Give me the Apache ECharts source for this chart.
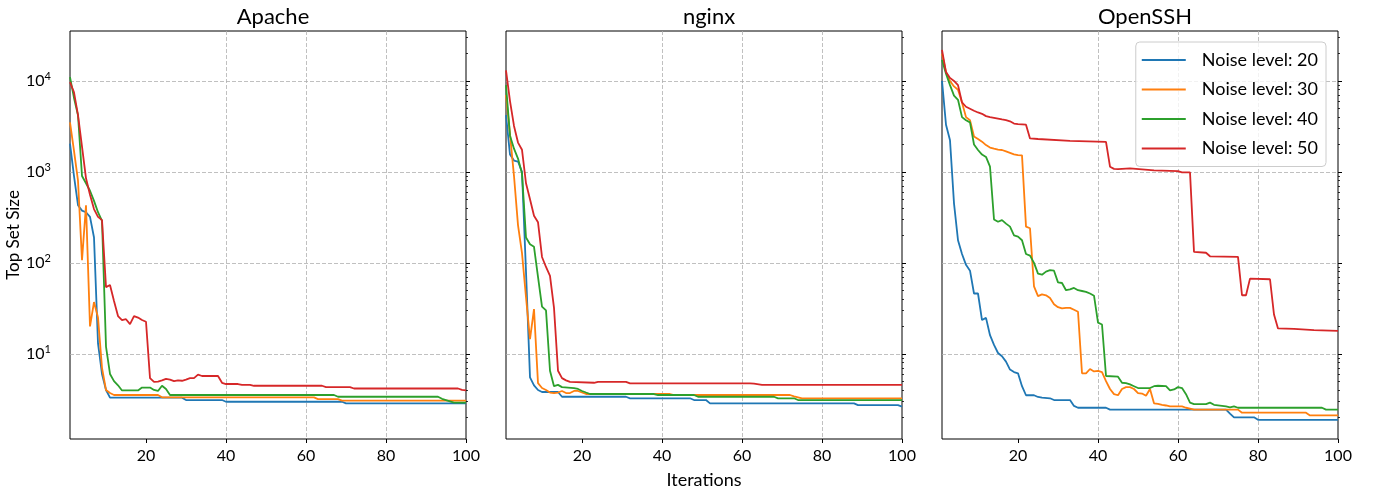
<!DOCTYPE html>
<html>
<head>
<meta charset="utf-8">
<script src="https://cdn.jsdelivr.net/npm/echarts@6/dist/echarts.min.js"></script>
<style>
  html, body { margin: 0; padding: 0; background: #fff; }
  #chart { width: 1377px; height: 495px; }
</style>
</head>
<body>
<div id="chart"></div>
<script>
const panelTitles = ['Apache', 'nginx', 'OpenSSH'];
const seriesNames = ['Noise level: 20', 'Noise level: 30', 'Noise level: 40', 'Noise level: 50'];
const seriesColors = ['#1f77b4', '#ff7f0e', '#2ca02c', '#d62728'];
const xTicks = [20, 40, 60, 80, 100];
const yTickExponents = [1, 2, 3, 4];

// [iteration, top set size]
const apache20 = [[1,2050],[2,900],[3,430],[4,375],[5,360],[6,320],[7,190],[8,13],[9,6],[10,4.0],[11,3.29],[29,3.29],[30,3.1],[39,3.1],[40,2.97],[69,2.97],[70,2.85],[100,2.85]];
const apache30 = [[1,3500],[2,1700],[3,800],[4,107],[5,430],[6,20],[7,37],[8,25],[9,7],[10,4.0],[11,3.7],[12,3.52],[23,3.52],[24,3.32],[62,3.32],[63,3.17],[68,3.17],[69,3.05],[100,3.05]];
const apache40 = [[1,11000],[2,6500],[3,4200],[4,900],[5,750],[6,620],[7,480],[8,360],[9,290],[10,12],[11,6],[12,5],[13,4.5],[14,3.95],[18,3.95],[19,4.25],[21,4.25],[22,4.0],[23,3.9],[24,4.45],[25,4.1],[26,3.52],[67,3.52],[68,3.37],[93,3.37],[94,3.2],[95,3.1],[97,2.9],[100,2.9]];
const apache50 = [[1,9700],[2,7500],[3,4200],[4,1900],[5,850],[6,560],[7,390],[8,320],[9,295],[10,54],[11,57],[12,38],[13,26],[14,23.5],[15,24],[16,21.2],[17,26],[18,25],[19,23.5],[20,22.5],[21,5.4],[22,4.9],[23,4.95],[24,5.1],[25,5.3],[26,5.2],[27,5.0],[28,5.1],[29,5.05],[30,5.2],[31,5.4],[32,5.4],[33,5.9],[34,5.7],[38,5.7],[39,4.8],[40,4.65],[43,4.65],[44,4.55],[46,4.55],[47,4.45],[64,4.45],[65,4.3],[71,4.3],[72,4.15],[98,4.15],[99,4.0],[100,3.95]];

const nginx20 = [[1,4200],[2,1550],[3,1330],[4,1300],[5,1000],[6,80],[7,5.5],[8,4.5],[9,4.0],[10,3.8],[14,3.8],[15,3.37],[31,3.37],[32,3.24],[47,3.24],[48,3.1],[51,3.1],[52,2.85],[88,2.85],[89,2.73],[99,2.73],[100,2.63]];
const nginx30 = [[1,7000],[2,2600],[3,900],[4,260],[5,128],[6,42],[7,14.5],[8,31],[9,4.75],[10,4.2],[11,4.0],[12,3.75],[13,3.7],[14,3.75],[15,3.9],[16,3.7],[17,3.7],[18,3.9],[19,3.9],[20,3.75],[21,3.61],[42,3.61],[43,3.52],[72,3.52],[73,3.4],[75,3.24],[100,3.24]];
const nginx40 = [[1,9000],[2,2500],[3,1800],[4,1400],[5,960],[6,190],[7,160],[8,150],[9,70],[10,33],[11,30],[12,6.5],[13,4.4],[14,4.55],[15,4.3],[18,4.2],[19,4.1],[20,3.9],[21,3.75],[22,3.61],[38,3.61],[39,3.52],[48,3.52],[49,3.37],[68,3.37],[69,3.24],[73,3.24],[74,3.1],[100,3.1]];
const nginx50 = [[1,13100],[2,6000],[3,3200],[4,2100],[5,1750],[6,750],[7,500],[8,330],[9,280],[10,116],[11,90],[12,72],[13,32],[14,6.5],[15,5.4],[16,5.1],[17,4.9],[23,4.8],[24,4.92],[31,4.92],[32,4.73],[62,4.73],[63,4.7],[65,4.55],[100,4.55]];

const ssh20 = [[1,10000],[2,3300],[3,2230],[4,450],[5,177],[6,125],[7,95],[8,82],[9,46],[10,46],[11,23.5],[12,24.8],[13,16],[14,12.5],[15,10.2],[16,9.4],[17,8.2],[18,6.7],[19,6.3],[20,6.1],[21,4.4],[22,3.5],[24,3.5],[25,3.35],[26,3.29],[28,3.24],[29,3.1],[33,3.1],[34,2.67],[35,2.55],[42,2.55],[43,2.43],[72,2.43],[73,2.2],[74,2.0],[79,2.0],[80,1.88],[100,1.88]];
const ssh30 = [[1,20000],[2,12500],[3,10000],[4,8700],[5,8000],[6,5800],[7,4000],[8,3700],[9,2450],[10,2300],[11,2150],[12,1970],[13,1850],[14,1800],[15,1760],[16,1740],[17,1680],[18,1620],[19,1560],[20,1530],[21,1520],[22,250],[23,240],[24,55],[25,43],[26,45],[27,44],[28,41],[29,35],[30,32.5],[31,31.5],[32,32],[33,32],[34,30.5],[35,29],[36,6.1],[37,6.1],[38,6.8],[39,6.4],[40,6.5],[41,6.3],[42,5.0],[43,4.1],[44,3.6],[45,3.5],[46,4.1],[47,4.3],[48,4.3],[49,4.1],[50,3.7],[51,3.65],[52,3.45],[53,4.1],[54,2.85],[55,2.82],[56,2.75],[57,2.7],[58,2.64],[61,2.64],[62,2.55],[63,2.5],[64,2.43],[75,2.43],[76,2.25],[92,2.25],[93,2.1],[100,2.1]];
const ssh40 = [[1,17000],[2,12000],[3,9000],[4,6900],[5,6200],[6,4000],[7,3700],[8,3500],[9,2000],[10,1740],[11,1550],[12,1460],[13,1140],[14,300],[15,283],[16,295],[17,270],[18,250],[19,200],[20,194],[21,177],[22,125],[23,120],[24,100],[25,76],[26,74],[27,80],[28,83],[29,82],[30,61],[31,60],[32,50],[33,51],[34,53],[35,50],[36,49],[37,48],[38,46],[39,43.5],[40,22],[41,21],[42,5.7],[45,5.6],[46,4.8],[47,4.75],[48,4.6],[49,4.4],[50,4.2],[53,4.2],[54,4.4],[55,4.45],[57,4.4],[58,3.95],[59,4.05],[60,4.3],[61,4.2],[62,3.6],[63,2.9],[64,2.79],[67,2.79],[68,2.9],[69,2.75],[72,2.64],[73,2.58],[74,2.64],[75,2.55],[96,2.55],[97,2.43],[100,2.43]];
const ssh50 = [[1,22000],[2,12500],[3,10800],[4,10000],[5,9000],[6,5800],[7,5200],[8,4950],[9,4700],[10,4500],[11,4350],[12,4100],[13,4000],[14,3930],[15,3850],[16,3770],[17,3700],[18,3600],[19,3400],[20,3350],[21,3330],[22,3300],[23,2330],[25,2300],[33,2190],[42,2140],[43,1140],[44,1080],[45,1070],[48,1090],[54,1040],[60,1020],[61,990],[63,990],[64,132],[67,129],[68,118],[75,116],[76,44],[77,44],[78,67],[83,66],[84,27],[85,19],[89,18.8],[94,18.2],[100,17.9]];

const panelData = [
  [apache20, apache30, apache40, apache50],
  [nginx20, nginx30, nginx40, nginx50],
  [ssh20, ssh30, ssh40, ssh50]
];

const FONT = 'Lato, "DejaVu Sans", sans-serif';
const Y_MIN = 1.156;
const Y_MAX = 35400;
const gridLefts = [70, 506, 942];
const GRID_W = 396;

// minor tick positions (log10 space) for 2..9 x 10^n
const minorTicks = [];
for (let n = 0; n <= 4; n++) {
  for (let k = 2; k <= 9; k++) {
    const v = k * Math.pow(10, n);
    if (v > Y_MIN && v < Y_MAX) minorTicks.push(Math.log10(v));
  }
}

const gridLine = { color: '#b0b0b0', width: 0.8, type: [4, 2] };

const grid = gridLefts.map(left => ({
  left, top: 31, width: GRID_W, height: 408,
  show: true, borderColor: '#000', borderWidth: 1, backgroundColor: 'transparent'
}));

const title = panelTitles.map((text, i) => ({
  text, left: gridLefts[i] + GRID_W / 2, top: 1, textAlign: 'center',
  textStyle: { fontSize: 22, fontWeight: 'normal', fontFamily: FONT, color: '#000' }
}));

const xAxis = panelTitles.map((_, i) => ({
  type: 'value', gridIndex: i, min: 1, max: 100,
  axisLine: { show: false },
  axisTick: { show: true, length: 4, customValues: xTicks, lineStyle: { color: '#000' } },
  axisLabel: { customValues: xTicks, fontSize: 16, fontFamily: FONT, color: '#000', margin: 9 },
  splitLine: { show: true, showMinLine: false, showMaxLine: false, lineStyle: gridLine },
  name: i === 1 ? 'Iterations' : '',
  nameLocation: 'middle', nameGap: 32,
  nameTextStyle: { fontSize: 18, fontFamily: FONT, color: '#000' }
}));

const yAxis = [];
panelTitles.forEach((_, i) => {
  yAxis.push({
    type: 'log', logBase: 10, gridIndex: i, min: Y_MIN, max: Y_MAX,
    axisLine: { show: false },
    axisTick: { show: false },
    axisLabel: {
      show: i === 0, showMinLabel: false, showMaxLabel: false, margin: 19,
      fontSize: 16, fontFamily: FONT, color: '#000',
      formatter: v => '10{sup|' + Math.round(Math.log10(v)) + '}',
      rich: { sup: { fontSize: 11, fontFamily: FONT, color: '#000', padding: [0, 0, 8, 0] } }
    },
    splitLine: { show: true, showMinLine: false, showMaxLine: false, lineStyle: gridLine },
    name: i === 0 ? 'Top Set Size' : '',
    nameLocation: 'middle', nameGap: 45,
    nameTextStyle: { fontSize: 17, fontFamily: FONT, color: '#000' }
  });
  // major ticks
  yAxis.push({
    type: 'value', gridIndex: i, min: Math.log10(Y_MIN), max: Math.log10(Y_MAX),
    axisLine: { show: false }, splitLine: { show: false }, axisLabel: { show: false },
    axisTick: { show: true, length: 4, customValues: yTickExponents, lineStyle: { color: '#000' } }
  });
  // minor ticks
  yAxis.push({
    type: 'value', gridIndex: i, min: Math.log10(Y_MIN), max: Math.log10(Y_MAX),
    axisLine: { show: false }, splitLine: { show: false }, axisLabel: { show: false },
    axisTick: { show: true, length: 2, customValues: minorTicks, lineStyle: { color: '#000', width: 0.8 } }
  });
});

const series = [];
panelData.forEach((lines, i) => {
  lines.forEach((data, j) => {
    series.push({
      type: 'line', name: seriesNames[j], xAxisIndex: i, yAxisIndex: i * 3,
      data, symbol: 'none', animation: false,
      lineStyle: { width: 1.8, color: seriesColors[j] },
      itemStyle: { color: seriesColors[j] }
    });
  });
});

const chart = echarts.init(document.getElementById('chart'));
chart.setOption({
  animation: false,
  title,
  grid,
  xAxis,
  yAxis,
  legend: {
    data: seriesNames, orient: 'vertical', right: 51, top: 42,
    icon: 'rect', itemWidth: 44, itemHeight: 2, itemGap: 9.5,
    padding: [8, 8, 8, 6],
    borderColor: '#cccccc', borderWidth: 1, borderRadius: 4,
    backgroundColor: 'rgba(255,255,255,0.8)',
    textStyle: { fontSize: 18, fontFamily: FONT, color: '#000', padding: [0, 0, 0, 11], lineHeight: 20 }
  },
  series
});
</script>
</body>
</html>
